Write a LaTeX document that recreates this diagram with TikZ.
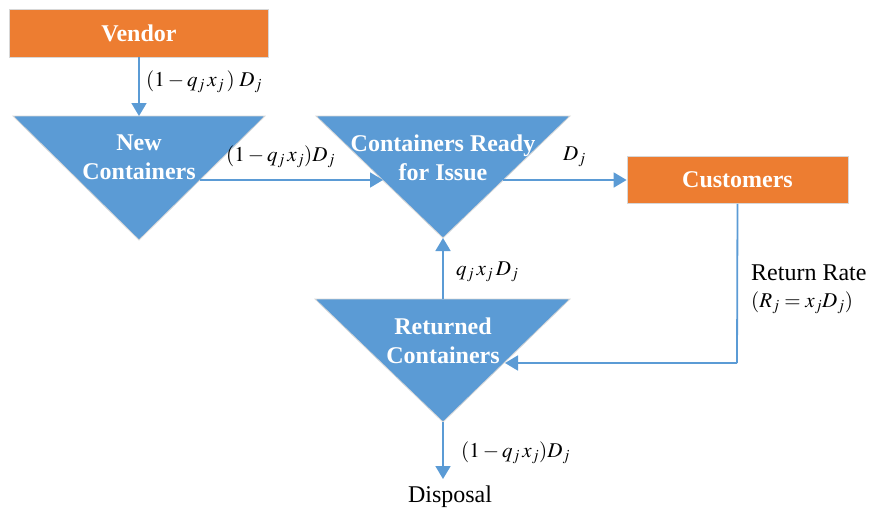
\documentclass[tikz,border=0pt]{standalone}
\usepackage{mathptmx}
\usepackage{fontspec}
\setmainfont{Liberation Serif}
\usetikzlibrary{arrows.meta}
\definecolor{orng}{RGB}{237,125,49}
\definecolor{blu}{RGB}{91,155,213}
\definecolor{edgegray}{RGB}{215,215,215}
\tikzset{
  boxnode/.style={fill=orng,draw=edgegray,line width=0.8pt,inner sep=0pt},
  tri/.style={fill=blu,draw=edgegray,line width=0.8pt},
  intext/.style={text=white,font=\fontsize{24}{29}\selectfont\bfseries,align=center,inner sep=0pt},
  lbl/.style={font=\fontsize{21}{26}\selectfont,inner sep=0pt,anchor=west},
  txtlbl/.style={font=\fontsize{24}{30}\selectfont,inner sep=0pt},
  flow/.style={draw=blu,line width=1.8pt,-{Triangle[length=13pt,width=15pt]}},
  plain/.style={draw=blu,line width=1.8pt}
}
\begin{document}
\begin{tikzpicture}[x=1pt,y=-1pt]
\useasboundingbox (0,0) rectangle (869,512);
% boxes
\node[boxnode,minimum width=259pt,minimum height=48pt] (vendor) at (139,33) {};
\node[intext] at (vendor.center) {Vendor};
\node[boxnode,minimum width=221pt,minimum height=47pt] (cust) at (737.5,180) {};
\node[intext] at (cust.center) {Customers};
% triangles
\draw[tri] (13,116) coordinate (ncL) -- (265,116) coordinate (ncR) -- (139,240) coordinate (ncB) -- cycle;
\coordinate (ncT) at (139,116);
\coordinate (ncE) at (200,180);
\node[intext] (nct) at (139,157.5) {New\\Containers};
\draw[tri] (316,116) coordinate (crL) -- (570,116) coordinate (crR) -- (443,238) coordinate (crB) -- cycle;
\coordinate (crW) at (383,180);
\coordinate (crE) at (503,180);
\node[intext] (crt) at (443,157.5) {Containers Ready\\for Issue};
\draw[tri] (315,299) coordinate (rcL) -- (570,299) coordinate (rcR) -- (443,422) coordinate (rcB) -- cycle;
\coordinate (rcT) at (443,299);
\coordinate (rcE) at (505,363);
\node[intext] (rct) at (443,341) {Returned\\Containers};
% disposal
\node[txtlbl] (disp) at (450,497) {Disposal};
\coordinate (dispT) at (443,479);
\coordinate (corner) at (737,363);
% connectors
\draw[flow] (vendor.south) -- (ncT);
\draw[flow] (ncE) -- (crW);
\draw[flow] (crE) -- (cust.west);
\draw[flow] (rcT) -- (crB);
\draw[flow] (rcB) -- (dispT);
\draw[plain] (cust.south) -- (corner);
\draw[flow] (corner) -- (rcE);
% labels
\node[lbl] (l1) at (146,82) {$(1-q_j\,x_j\,)\;D_j$};
\node[lbl] (l2) at (226,157) {$(1-q_j\,x_j)D_j$};
\node[lbl] (l3) at (563,157) {$D_j$};
\node[lbl] (l4) at (456,272) {$q_j\,x_j\,D_j$};
\node[txtlbl,anchor=west] (l5) at (751,273) {Return Rate};
\node[lbl] (l6) at (751,303) {$(R_j=x_jD_j)$};
\node[lbl] (l7) at (461,453) {$(1-q_j\,x_j)D_j$};
\end{tikzpicture}
\end{document}
